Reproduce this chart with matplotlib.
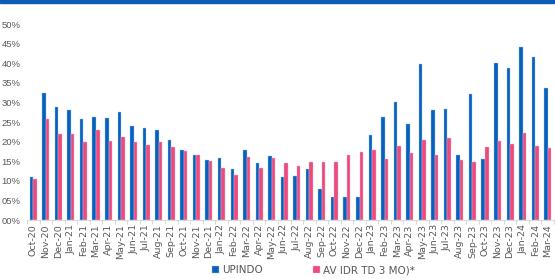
import matplotlib
matplotlib.use("Agg")
import matplotlib.pyplot as plt
import numpy as np
from matplotlib.patches import Rectangle

months = ["Oct-20", "Nov-20", "Dec-20",
          "Jan-21", "Feb-21", "Mar-21", "Apr-21", "May-21", "Jun-21", "Jul-21", "Aug-21", "Sep-21", "Oct-21", "Nov-21", "Dec-21",
          "Jan-22", "Feb-22", "Mar-22", "Apr-22", "May-22", "Jun-22", "Jul-22", "Aug-22", "Sep-22", "Oct-22", "Nov-22", "Dec-22",
          "Jan-23", "Feb-23", "Mar-23", "Apr-23", "May-23", "Jun-23", "Jul-23", "Aug-23", "Sep-23", "Oct-23", "Nov-23", "Dec-23",
          "Jan-24", "Feb-24", "Mar-24"]
upindo = [10.9, 32.3, 28.7,
          28.0, 25.8, 26.4, 25.9, 27.6, 24.1, 23.4, 23.0, 20.5, 17.9, 16.6, 15.2,
          15.9, 13.1, 17.8, 14.5, 16.3, 11.0, 11.2, 12.9, 7.9, 5.9, 5.9, 5.9,
          21.6, 26.4, 30.0, 24.6, 39.8, 28.0, 28.2, 16.7, 32.1, 15.5, 40.1, 38.7,
          44.2, 41.5, 33.7]
av_idr = [10.5, 25.8, 21.9,
          22.0, 19.9, 22.9, 20.2, 21.2, 19.9, 19.1, 19.9, 18.6, 17.6, 16.6, 15.1,
          13.3, 11.4, 16.0, 13.3, 15.7, 14.5, 13.8, 14.7, 14.9, 14.7, 16.5, 17.3,
          17.9, 15.6, 19.0, 17.2, 20.3, 16.6, 21.0, 15.3, 14.7, 18.5, 20.2, 19.4,
          22.2, 19.0, 18.3]
yticks = [0, 5, 10, 15, 20, 25, 30, 35, 40, 45, 50]
series_names = ["UPINDO", "AV IDR TD 3 MO)*"]

BLUE = "#0760BE"
PINK = "#EA4A7E"
GRAY = "#595959"

W, H = 555, 279
fig = plt.figure(figsize=(W / 100, H / 100), dpi=100)
ax = fig.add_axes([27 / W, (H - 220) / H, (554 - 27) / W, (220 - 24) / H])

x = np.arange(len(months))
bw = 0.28
ax.bar(x - bw / 2, upindo, width=bw, color=BLUE, edgecolor="#9CC3EA", linewidth=0.3, label=series_names[0])
ax.bar(x + bw / 2, av_idr, width=bw, color=PINK, edgecolor="#F5B5CB", linewidth=0.3, label=series_names[1])

ax.set_xlim(-0.5, len(months) - 0.5)
ax.set_ylim(0, 50)
ax.set_yticks(yticks)
ax.set_yticklabels([f"{v:02d}%" for v in yticks], fontsize=6.8, color=GRAY, family="Liberation Sans")
ax.tick_params(axis="y", length=0, pad=4.5)

ax.set_xticks(x)
ax.set_xticklabels(months, rotation=90, fontsize=6.8, color=GRAY)
ax.tick_params(axis="x", length=0, pad=3)
ax.set_xticks(np.arange(-0.5, len(months), 1), minor=True)
ax.tick_params(axis="x", which="minor", length=3, color="#D9D9D9", width=0.8)

for s in ["top", "right", "left"]:
    ax.spines[s].set_visible(False)
ax.spines["bottom"].set_color("#D9D9D9")
ax.spines["bottom"].set_linewidth(0.8)

leg = fig.legend(loc="lower center", bbox_to_anchor=(0.565, -0.02), ncol=2, frameon=False,
                 fontsize=7.5, handlelength=0.7, handleheight=0.7, handletextpad=0.3, columnspacing=4.8)
for t in leg.get_texts():
    t.set_color(GRAY)

fig.patches.append(Rectangle((0, 1 - 2.5 / H), 1, 2.5 / H, transform=fig.transFigure,
                             color="#0B5CB2", zorder=10))

fig.savefig("out.png", dpi=100)
